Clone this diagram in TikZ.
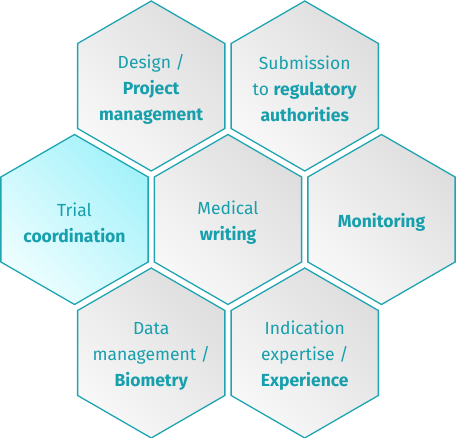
\documentclass[tikz,border=0pt]{standalone}
\usepackage{fontspec}
\setmainfont{Fira Sans}
\definecolor{hexline}{HTML}{1FA5B2}
\definecolor{hextext}{HTML}{169FAC}
\definecolor{gdark}{HTML}{DEDEDE}
\definecolor{glight}{HTML}{F8F8F8}
\definecolor{cdark}{HTML}{A4F2FA}
\definecolor{clight}{HTML}{EEFEFF}
\tikzset{
  hexgray/.style={draw=hexline, line width=1.3pt, line join=miter, top color=gdark, bottom color=glight, shading angle=-45},
  hexcyan/.style={draw=hexline, line width=1.3pt, line join=miter, top color=cdark, bottom color=clight, shading angle=-45},
  txt/.style={text=hextext, align=center, inner sep=0pt, yshift=-3pt, font=\fontsize{17.5}{26}\selectfont}
}
\newcommand{\hexshape}[2]{\path[#2] (#1) +(90:85) -- +(150:85) -- +(210:85) -- +(270:85) -- +(330:85) -- +(30:85) -- cycle;}
\begin{document}
\begin{tikzpicture}[x=1pt,y=1pt]
\useasboundingbox (0,0) rectangle (456,438);
\coordinate (cdesign) at (151.25,352);
\coordinate (csub) at (304.75,352);
\coordinate (ctrial) at (74.5,218.5);
\coordinate (cmed) at (228,218.5);
\coordinate (cmon) at (381.5,218.5);
\coordinate (cdata) at (151.25,85);
\coordinate (cind) at (304.75,85);
\hexshape{cdesign}{hexgray}
\hexshape{csub}{hexgray}
\hexshape{ctrial}{hexcyan}
\hexshape{cmed}{hexgray}
\hexshape{cmon}{hexgray}
\hexshape{cdata}{hexgray}
\hexshape{cind}{hexgray}
\node[txt] (design) at (cdesign) {Design /\\\textbf{Project}\\\textbf{management}};
\node[txt] (sub) at (csub) {Submission\\to \textbf{regulatory}\\\textbf{authorities}};
\node[txt] (trial) at (ctrial) {Trial\\\textbf{coordination}};
\node[txt] (med) at (cmed) {Medical\\\textbf{writing}};
\node[txt] (mon) at (cmon) {\textbf{Monitoring}};
\node[txt] (data) at (cdata) {Data\\management /\\\textbf{Biometry}};
\node[txt] (ind) at (cind) {Indication\\expertise /\\\textbf{Experience}};
\end{tikzpicture}
\end{document}
